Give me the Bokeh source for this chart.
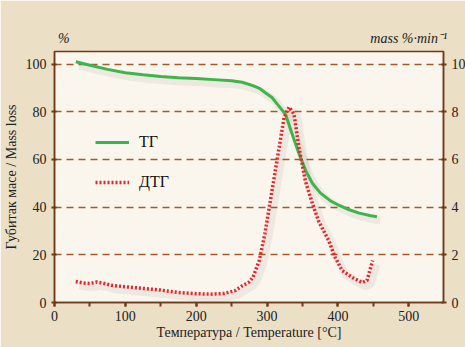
from bokeh.plotting import figure
from bokeh.models import (Range1d, LinearAxis, Legend, LegendItem,
                          FixedTicker, SingleIntervalTicker, ColumnDataSource)
from bokeh.transform import dodge
from bokeh.embed import file_html
from bokeh.resources import INLINE

# ---- data ----
tg_t = [30, 50, 75, 100, 125, 150, 175, 200, 225, 250, 265, 280, 290, 300,
        307, 315, 326, 335, 345, 355, 364, 375, 390, 402, 415, 430, 445, 455]
tg = [101, 99.5, 97.8, 96.4, 95.5, 94.8, 94.3, 94.0, 93.5, 93.0, 92.4, 91.0,
      89.7, 87.5, 86, 83, 79, 71, 62.5, 55, 50, 46, 42.5, 40.7, 39, 37.5, 36.5, 36]

dtg_t = [30, 40, 50, 60, 70, 80, 100, 125, 150, 175, 200, 220, 240, 255, 265,
         274, 280, 289, 297, 307, 317, 324, 331, 338, 345, 354, 364, 373, 387,
         396, 406, 420, 434, 441, 449]
dtg = [0.88, 0.82, 0.8, 0.86, 0.8, 0.72, 0.66, 0.59, 0.52, 0.42, 0.37, 0.35,
       0.38, 0.5, 0.7, 0.84, 1.05, 1.76, 2.9, 4.7, 6.5, 7.76, 8.2, 7.9, 6.5,
       5.1, 4.15, 3.4, 2.6, 1.9, 1.34, 1.05, 0.84, 0.92, 1.76]

left_ticks = [0, 20, 40, 60, 80, 100]
right_ticks = [0, 2, 4, 6, 8, 10]
unit_left = "%"
unit_right = "mass %·min⁻¹"

SERIF = "Liberation Serif"
BROWN = "#6e3a17"
GRID = "#a5582a"

p = figure(frame_width=389, frame_height=251, output_backend="svg",
           toolbar_location=None,
           x_range=Range1d(0, 549), y_range=Range1d(0, 105.3),
           min_border_left=53, min_border_right=23, min_border_top=51,
           min_border_bottom=45)
p.extra_y_ranges = {"dtg": Range1d(0, 10.53)}

p.background_fill_color = "#faf6ee"
p.border_fill_color = "#ebdfc6"
p.outline_line_color = BROWN
p.outline_line_width = 1.5

# x axis
xa = p.xaxis[0]
xa.ticker = SingleIntervalTicker(interval=100, num_minor_ticks=2)
xa.axis_label = "Температура / Temperature [°C]"

# left axis
ya = p.yaxis[0]
ya.ticker = FixedTicker(ticks=left_ticks)
ya.axis_label = "Губитак масе / Mass loss"

# right axis
ra = LinearAxis(y_range_name="dtg", ticker=FixedTicker(ticks=right_ticks))
p.add_layout(ra, "right")

for ax in [xa, ya, ra]:
    ax.axis_line_color = BROWN
    ax.axis_line_width = 1.5
    ax.major_tick_line_color = BROWN
    ax.major_tick_line_width = 2
    ax.minor_tick_line_color = BROWN
    ax.minor_tick_line_width = 2
    ax.major_tick_in = 2
    ax.major_tick_out = 3
    ax.minor_tick_in = 0
    ax.minor_tick_out = 0
    ax.major_label_text_font = SERIF
    ax.major_label_text_font_size = "14px"
    ax.major_label_text_color = "#222222"
    ax.axis_label_text_font = SERIF
    ax.axis_label_text_font_size = "14px"
    ax.axis_label_text_font_style = "normal"
    ax.axis_label_text_color = "#222222"
    ax.major_label_standoff = 5
    ax.axis_label_standoff = 4

xa.major_tick_in = 0
xa.major_tick_out = 4
xa.minor_tick_out = 4
xa.major_label_standoff = 4
xa.axis_label_standoff = 1

# unit captions above the frame, carried by a bare top axis
ta = LinearAxis(ticker=FixedTicker(ticks=[13, 500]),
                major_label_overrides={13: unit_left, 500: unit_right})
ta.axis_line_alpha = 0
ta.major_tick_line_alpha = 0
ta.minor_tick_line_alpha = 0
ta.major_tick_in = 0
ta.major_tick_out = 0
ta.major_label_standoff = 6
ta.major_label_text_font = SERIF
ta.major_label_text_font_style = "italic"
ta.major_label_text_font_size = "14px"
ta.major_label_text_color = "#222222"
p.add_layout(ta, "above")

p.xgrid.visible = False
p.ygrid.ticker = FixedTicker(ticks=[20, 40, 60, 80, 100])
p.ygrid.grid_line_color = GRID
p.ygrid.grid_line_width = 1.5
p.ygrid.grid_line_dash = "7 5"

tg_src = ColumnDataSource(dict(t=tg_t, v=tg))
dtg_src = ColumnDataSource(dict(t=dtg_t, v=dtg))

# soft drop shadows
p.line(x=dodge("t", 5, range=p.x_range), y=dodge("v", -1.6, range=p.y_range),
       source=tg_src, line_color="#6b5a40", line_alpha=0.08, line_width=8)
p.line(x=dodge("t", 5, range=p.x_range), y=dodge("v", -0.16),
       source=dtg_src, y_range_name="dtg",
       line_color="#6b5a40", line_alpha=0.08, line_width=8)

# lines
tg_r = p.line("t", "v", source=tg_src, line_color="#3db54a", line_width=3)
dtg_r = p.line("t", "v", source=dtg_src, y_range_name="dtg",
               line_color="#e8232b", line_width=3.5, line_dash="2 2")

legend = Legend(items=[LegendItem(label="ТГ", renderers=[tg_r]),
                       LegendItem(label="ДТГ", renderers=[dtg_r])],
                location=(41, 110), padding=0, margin=0, spacing=20,
                glyph_width=34, glyph_height=20, label_height=20,
                label_standoff=10, label_text_font=SERIF,
                label_text_font_size="16px", label_text_color="#111111",
                background_fill_alpha=0, border_line_alpha=0)
p.add_layout(legend, "center")

open("out.html", "w").write(file_html(p, INLINE))
